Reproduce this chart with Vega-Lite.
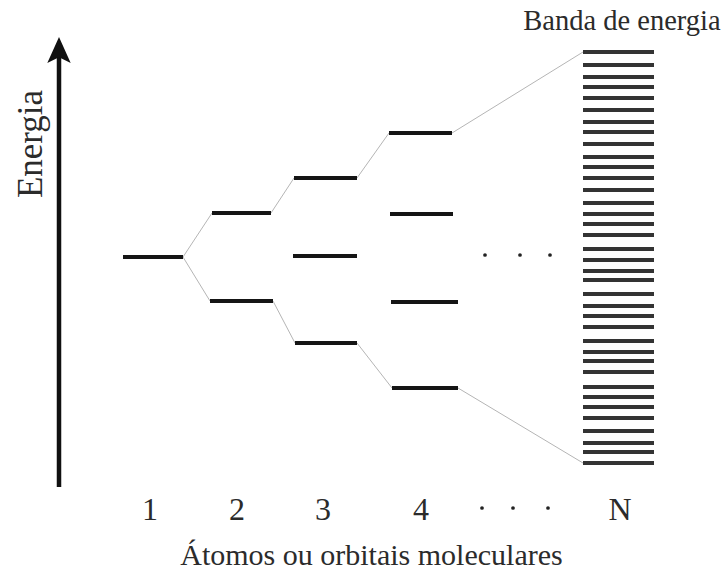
{
  "$schema": "https://vega.github.io/schema/vega-lite/v6.json",
  "width": 724,
  "height": 572,
  "padding": 0,
  "autosize": {"type": "none"},
  "background": "#ffffff",
  "config": {"view": {"stroke": null}, "text": {"font": "Liberation Serif", "color": "#2b2b2b"}},
  "datasets": {
    "levels": [
      {"atom": "1", "x": 1.23, "x2": 1.83, "e": 0.0},
      {"atom": "2", "x": 2.12, "x2": 2.71, "e": 0.44},
      {"atom": "2", "x": 2.10, "x2": 2.73, "e": -0.44},
      {"atom": "3", "x": 2.94, "x2": 3.57, "e": 0.79},
      {"atom": "3", "x": 2.93, "x2": 3.57, "e": 0.01},
      {"atom": "3", "x": 2.95, "x2": 3.57, "e": -0.86},
      {"atom": "4", "x": 3.89, "x2": 4.52, "e": 1.24},
      {"atom": "4", "x": 3.90, "x2": 4.53, "e": 0.43},
      {"atom": "4", "x": 3.91, "x2": 4.58, "e": -0.45},
      {"atom": "4", "x": 3.92, "x2": 4.58, "e": -1.31}
    ],
    "links": [
      {"x": 1.83, "e": 0.0, "x2": 2.12, "e2": 0.44},
      {"x": 1.83, "e": 0.0, "x2": 2.10, "e2": -0.44},
      {"x": 2.71, "e": 0.44, "x2": 2.94, "e2": 0.79},
      {"x": 2.73, "e": -0.44, "x2": 2.95, "e2": -0.86},
      {"x": 3.57, "e": 0.79, "x2": 3.89, "e2": 1.24},
      {"x": 3.57, "e": -0.86, "x2": 3.92, "e2": -1.31},
      {"x": 4.52, "e": 1.24, "x2": 5.83, "e2": 2.05},
      {"x": 4.58, "e": -1.31, "x2": 5.83, "e2": -2.06}
    ],
    "band": [
      {"x": 5.83, "x2": 6.54, "e": 2.05}, {"x": 5.83, "x2": 6.54, "e": 1.92}, {"x": 5.83, "x2": 6.54, "e": 1.80},
      {"x": 5.83, "x2": 6.54, "e": 1.70}, {"x": 5.83, "x2": 6.54, "e": 1.59}, {"x": 5.83, "x2": 6.54, "e": 1.47},
      {"x": 5.83, "x2": 6.54, "e": 1.35}, {"x": 5.83, "x2": 6.54, "e": 1.25}, {"x": 5.83, "x2": 6.54, "e": 1.13},
      {"x": 5.83, "x2": 6.54, "e": 1.00}, {"x": 5.83, "x2": 6.54, "e": 0.90}, {"x": 5.83, "x2": 6.54, "e": 0.79},
      {"x": 5.83, "x2": 6.54, "e": 0.67}, {"x": 5.83, "x2": 6.54, "e": 0.54}, {"x": 5.83, "x2": 6.54, "e": 0.43},
      {"x": 5.83, "x2": 6.54, "e": 0.33}, {"x": 5.83, "x2": 6.54, "e": 0.22}, {"x": 5.83, "x2": 6.54, "e": 0.08},
      {"x": 5.83, "x2": 6.54, "e": -0.03}, {"x": 5.83, "x2": 6.54, "e": -0.14}, {"x": 5.83, "x2": 6.54, "e": -0.23},
      {"x": 5.83, "x2": 6.54, "e": -0.37}, {"x": 5.83, "x2": 6.54, "e": -0.49}, {"x": 5.83, "x2": 6.54, "e": -0.59},
      {"x": 5.83, "x2": 6.54, "e": -0.70}, {"x": 5.83, "x2": 6.54, "e": -0.84}, {"x": 5.83, "x2": 6.54, "e": -0.95},
      {"x": 5.83, "x2": 6.54, "e": -1.04}, {"x": 5.83, "x2": 6.54, "e": -1.15}, {"x": 5.83, "x2": 6.54, "e": -1.30},
      {"x": 5.83, "x2": 6.54, "e": -1.40}, {"x": 5.83, "x2": 6.54, "e": -1.50}, {"x": 5.83, "x2": 6.54, "e": -1.61},
      {"x": 5.83, "x2": 6.54, "e": -1.74}, {"x": 5.83, "x2": 6.54, "e": -1.86}, {"x": 5.83, "x2": 6.54, "e": -1.95},
      {"x": 5.83, "x2": 6.54, "e": -2.06}
    ],
    "dots": [
      {"x": 4.85, "e": 0.02}, {"x": 5.20, "e": 0.02}, {"x": 5.50, "e": 0.02},
      {"x": 4.82, "e": -2.51}, {"x": 5.13, "e": -2.51}, {"x": 5.48, "e": -2.51}
    ],
    "ticks": [
      {"label": "1", "x": 1.50, "e": -2.63},
      {"label": "2", "x": 2.37, "e": -2.63},
      {"label": "3", "x": 3.23, "e": -2.63},
      {"label": "4", "x": 4.21, "e": -2.63},
      {"label": "N", "x": 6.20, "e": -2.63}
    ]
  },
  "encoding": {
    "x": {"field": "x", "type": "quantitative", "scale": {"domain": [0, 7.24], "nice": false, "zero": false}, "axis": null},
    "y": {"field": "e", "type": "quantitative", "scale": {"domain": [-3.15, 2.57], "nice": false, "zero": false}, "axis": null}
  },
  "layer": [
    {
      "data": {"name": "links"},
      "mark": {"type": "rule", "color": "#b5b5b5", "strokeWidth": 1},
      "encoding": {"x2": {"field": "x2"}, "y2": {"field": "e2"}}
    },
    {
      "data": {"values": [{"x": 0.59, "e": -2.30, "e2": 2.0}]},
      "mark": {"type": "rule", "color": "#111111", "strokeWidth": 4.5},
      "encoding": {"y2": {"field": "e2"}}
    },
    {
      "data": {"values": [{"x": 0.59, "e": 2.07}]},
      "mark": {"type": "point", "shape": "M0,-1L0.9,1L0,0.55L-0.9,1Z", "filled": true, "size": 676, "color": "#111111", "opacity": 1},
      "encoding": {}
    },
    {
      "data": {"name": "levels"},
      "mark": {"type": "rule", "color": "#151515", "strokeWidth": 4},
      "encoding": {"x2": {"field": "x2"}}
    },
    {
      "data": {"name": "band"},
      "mark": {"type": "rule", "color": "#333333", "strokeWidth": 4},
      "encoding": {"x2": {"field": "x2"}}
    },
    {
      "data": {"name": "dots"},
      "mark": {"type": "point", "shape": "circle", "filled": true, "size": 14, "color": "#222222", "opacity": 1},
      "encoding": {}
    },
    {
      "data": {"name": "ticks"},
      "mark": {"type": "text", "fontSize": 32, "align": "center", "baseline": "alphabetic"},
      "encoding": {"text": {"field": "label"}}
    },
    {
      "data": {"values": [{"label": "Átomos ou orbitais moleculares", "x": 3.715, "e": -3.08}]},
      "mark": {"type": "text", "fontSize": 30, "align": "center", "baseline": "alphabetic"},
      "encoding": {"text": {"field": "label"}}
    },
    {
      "data": {"values": [{"label": "Banda de energia", "x": 6.22, "e": 2.27}]},
      "mark": {"type": "text", "fontSize": 28.5, "align": "center", "baseline": "alphabetic"},
      "encoding": {"text": {"field": "label"}}
    },
    {
      "data": {"values": [{"label": "Energia", "x": 0.42, "e": 1.13}]},
      "mark": {"type": "text", "fontSize": 35, "align": "center", "baseline": "alphabetic", "angle": 270},
      "encoding": {"text": {"field": "label"}}
    }
  ]
}
